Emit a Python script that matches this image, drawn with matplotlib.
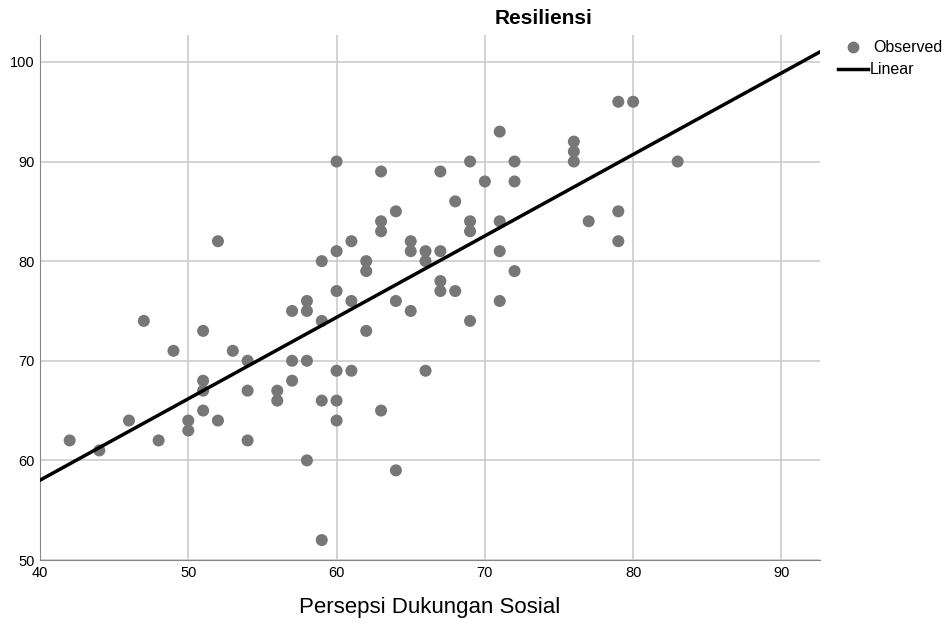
import numpy as np
import matplotlib
matplotlib.use("Agg")
import matplotlib.pyplot as plt
from matplotlib.lines import Line2D

plt.rcParams['font.family'] = ['Liberation Sans', 'DejaVu Sans']

# Persepsi Dukungan Sosial (x) vs Resiliensi (y)
dukungan = [42, 44, 46, 47, 48, 49, 50, 50, 51, 51, 51, 51, 52, 52, 53,
            54, 54, 54, 56, 56, 57, 57, 57, 58, 58, 58, 58, 59, 59, 59, 59,
            60, 60, 60, 60, 60, 60, 61, 61, 61, 62, 62, 62, 63, 63, 63, 63,
            64, 64, 64, 65, 65, 65, 66, 66, 66, 67, 67, 67, 67, 68, 68,
            69, 69, 69, 69, 70, 71, 71, 71, 71, 72, 72, 72, 76, 76, 76,
            77, 79, 79, 79, 80, 83]
resiliensi = [62, 61, 64, 74, 62, 71, 64, 63, 73, 68, 67, 65, 82, 64, 71,
              70, 67, 62, 67, 66, 75, 70, 68, 76, 75, 70, 60, 80, 74, 66, 52,
              90, 81, 77, 69, 66, 64, 82, 76, 69, 80, 79, 73, 89, 84, 83, 65,
              85, 76, 59, 82, 81, 75, 81, 80, 69, 89, 81, 78, 77, 86, 77,
              90, 84, 83, 74, 88, 93, 84, 81, 76, 90, 88, 79, 92, 91, 90,
              84, 96, 85, 82, 96, 90]

x = np.array(dukungan)
y = np.array(resiliensi)
b, a = np.polyfit(x, y, 1)

W, H = 948, 625
fig = plt.figure(figsize=(W / 100, H / 100), dpi=100)
ax = fig.add_axes([40 / W, 1 - 560 / H, 780 / W, 525 / H])

ax.grid(True, color="#cccccc", linewidth=1.2)
ax.set_axisbelow(True)
ax.scatter(x, y, s=75, color="#777777", edgecolors="none", zorder=3)

xl = np.array([40, 92.6])
ax.plot(xl, a + b * xl, color="black", linewidth=2.5, zorder=4)

ax.set_xlim(40, 92.6)
ax.set_ylim(50, 102.7)
ax.set_xticks([40, 50, 60, 70, 80, 90])
ax.set_yticks([50, 60, 70, 80, 90, 100])
ax.tick_params(length=0, labelsize=10.5, pad=4)
for s in ["top", "right"]:
    ax.spines[s].set_visible(False)
for s in ["left", "bottom"]:
    ax.spines[s].set_color("#888888")

fig.text(544 / W, 1 - 19 / H, "Resiliensi", ha="center", va="center",
         fontsize=15, fontweight="bold")
fig.text(430 / W, 1 - 607 / H, "Persepsi Dukungan Sosial", ha="center",
         va="center", fontsize=16)

# legenda manual (Observed / Linear)
fig.add_artist(Line2D([853 / W], [1 - 47 / H], marker="o", color="#777777",
                      markersize=7.5, linestyle="none",
                      transform=fig.transFigure))
fig.add_artist(Line2D([838 / W, 868 / W], [1 - 69 / H, 1 - 69 / H],
                      color="black", linewidth=2.5,
                      transform=fig.transFigure))
fig.text(873 / W, 1 - 48 / H, "Observed", ha="left", va="center",
         fontsize=11.5)
fig.text(870 / W, 1 - 69 / H, "Linear", ha="left", va="center",
         fontsize=11.5)

plt.savefig("out.png", dpi=100)
plt.close()
